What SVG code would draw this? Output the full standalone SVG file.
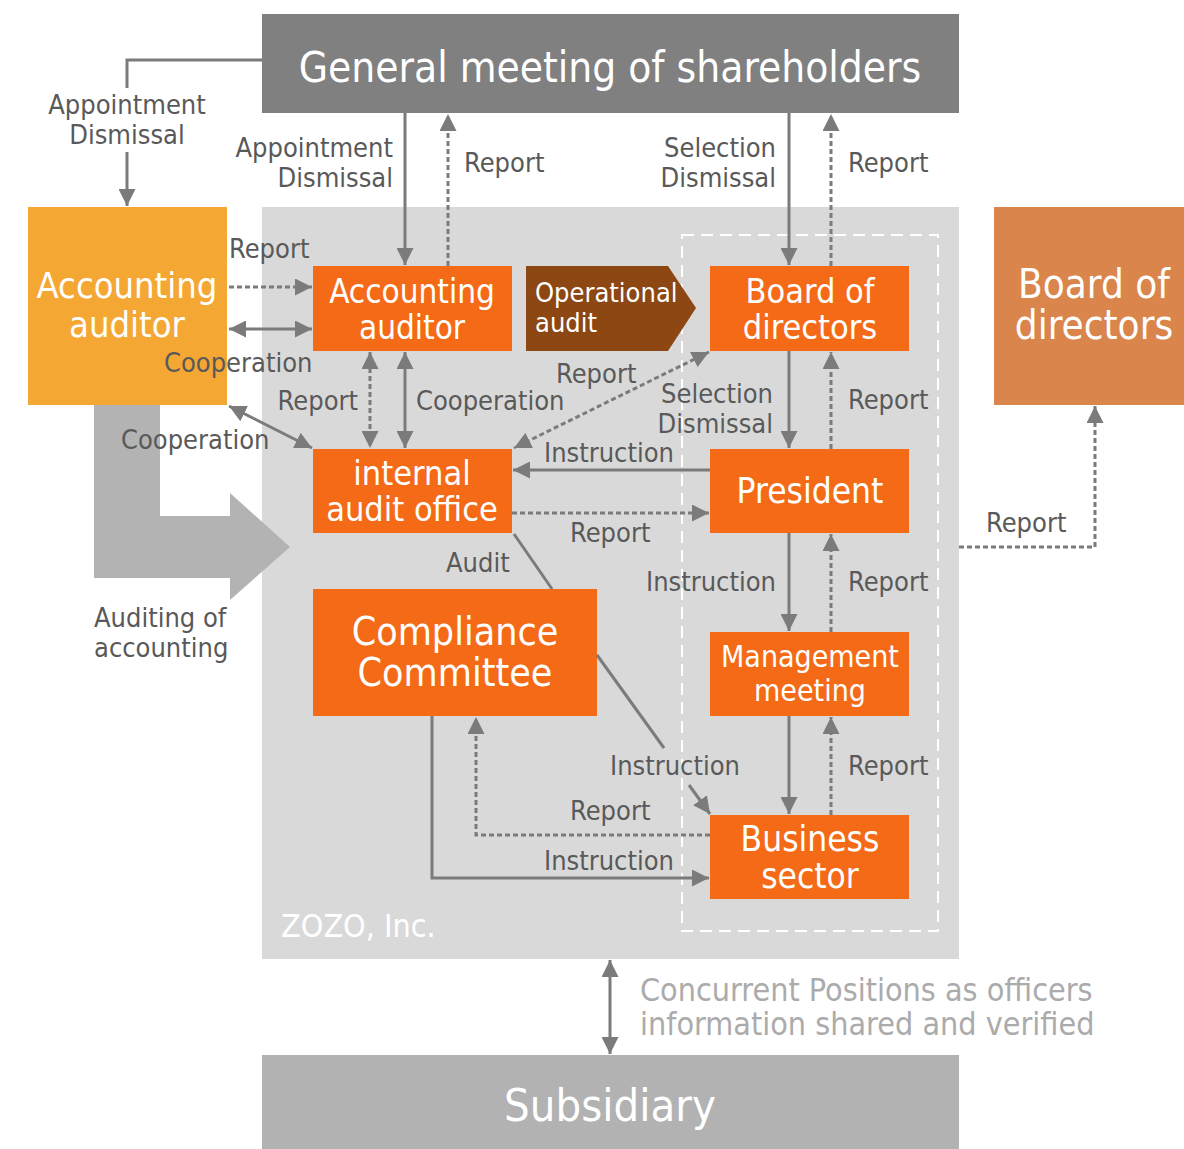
<svg xmlns="http://www.w3.org/2000/svg" width="1184" height="1149" viewBox="0 0 1184 1149">
<defs>
<marker id="ah" viewBox="0 0 10 10" refX="10" refY="5" markerWidth="17" markerHeight="17" markerUnits="userSpaceOnUse" orient="auto-start-reverse"><path d="M0,0 L10,5 L0,10 z" fill="#7b7b7b"/></marker>
<style>
.ln{stroke:#7b7b7b;stroke-width:3;fill:none}
.dt{stroke:#7b7b7b;stroke-width:3;fill:none;stroke-dasharray:5 3}
.lb{font-family:'DejaVu Sans Condensed','DejaVu Sans',sans-serif;font-stretch:condensed;font-size:27px;fill:#595959}
.nt{font-family:'DejaVu Sans Condensed','DejaVu Sans',sans-serif;font-stretch:condensed;fill:#ffffff;text-anchor:middle}
.or{fill:#f56a16}
</style>
</defs>
<rect width="1184" height="1149" fill="#ffffff"/>
<rect x="262" y="207" width="697" height="752" fill="#d9d9d9"/>
<rect x="682" y="235" width="256" height="696" fill="none" stroke="#ffffff" stroke-width="2" stroke-dasharray="12 7"/>
<text x="281" y="937" class="nt" style="text-anchor:start;font-size:32px">ZOZO, Inc.</text>
<path d="M94,405 L160,405 L160,516 L230,516 L230,493 L290,547 L230,600 L230,578 L94,578 Z" fill="#b3b3b3"/>
<g id="gm"><rect x="262" y="14" width="697" height="99" fill="#808080"/><text x="610" y="82" class="nt" style="font-size:42px">General meeting of shareholders</text></g>
<g id="acc-ext"><rect x="28" y="207" width="199" height="198" fill="#f5a733"/><text class="nt" style="font-size:36px"><tspan x="127" y="298">Accounting</tspan><tspan x="127" y="337">auditor</tspan></text></g>
<g id="bod-ext"><rect x="994" y="207" width="190" height="198" fill="#d9854b"/><text class="nt" style="font-size:40px"><tspan x="1094" y="298">Board of</tspan><tspan x="1094" y="339">directors</tspan></text></g>
<g id="acc-int"><rect x="313" y="266" width="199" height="85" class="or"/><text class="nt" style="font-size:33px"><tspan x="412" y="303">Accounting</tspan><tspan x="412" y="339">auditor</tspan></text></g>
<g id="opaudit"><path d="M526,266 L668,266 L696,308 L668,351 L526,351 Z" fill="#8c4712"/><text class="nt" style="text-anchor:start;font-size:27px"><tspan x="535" y="302">Operational</tspan><tspan x="535" y="332">audit</tspan></text></g>
<g id="bod"><rect x="710" y="266" width="199" height="85" class="or"/><text class="nt" style="font-size:34px"><tspan x="810" y="303">Board of</tspan><tspan x="810" y="339">directors</tspan></text></g>
<g id="iao"><rect x="313" y="449" width="199" height="84" class="or"/><text class="nt" style="font-size:34px"><tspan x="412" y="485">internal</tspan><tspan x="412" y="521">audit office</tspan></text></g>
<g id="president"><rect x="710" y="449" width="199" height="84" class="or"/><text x="810" y="503" class="nt" style="font-size:35px">President</text></g>
<g id="compliance"><rect x="313" y="589" width="284" height="127" class="or"/><text class="nt" style="font-size:39px"><tspan x="455" y="645">Compliance</tspan><tspan x="455" y="686">Committee</tspan></text></g>
<g id="mgmt"><rect x="710" y="632" width="199" height="84" class="or"/><text class="nt" style="font-size:30px"><tspan x="810" y="667">Management</tspan><tspan x="810" y="701">meeting</tspan></text></g>
<g id="business"><rect x="710" y="815" width="199" height="84" class="or"/><text class="nt" style="font-size:35px"><tspan x="810" y="851">Business</tspan><tspan x="810" y="888">sector</tspan></text></g>
<g id="subsidiary"><rect x="262" y="1055" width="697" height="94" fill="#b2b2b2"/><text x="610" y="1121" class="nt" style="font-size:45px">Subsidiary</text></g>
<g id="connectors">
<polyline class="ln" points="262,60 127,60 127,88"/>
<line class="ln" x1="127" y1="152" x2="127" y2="206" marker-end="url(#ah)"/>
<line class="ln" x1="405" y1="113" x2="405" y2="265" marker-end="url(#ah)"/>
<line class="dt" x1="448" y1="266" x2="448" y2="114" marker-end="url(#ah)"/>
<line class="ln" x1="789" y1="113" x2="789" y2="265" marker-end="url(#ah)"/>
<line class="dt" x1="831" y1="266" x2="831" y2="114" marker-end="url(#ah)"/>
<line class="dt" x1="229" y1="287" x2="312" y2="287" marker-end="url(#ah)"/>
<line class="ln" x1="229" y1="329" x2="312" y2="329" marker-start="url(#ah)" marker-end="url(#ah)"/>
<line class="dt" x1="370" y1="352" x2="370" y2="448" marker-start="url(#ah)" marker-end="url(#ah)"/>
<line class="ln" x1="405" y1="352" x2="405" y2="448" marker-start="url(#ah)" marker-end="url(#ah)"/>
<line class="ln" x1="229" y1="406" x2="312" y2="448" marker-start="url(#ah)" marker-end="url(#ah)"/>
<line class="dt" x1="709" y1="352" x2="514" y2="448" marker-start="url(#ah)" marker-end="url(#ah)"/>
<line class="ln" x1="710" y1="470" x2="513" y2="470" marker-end="url(#ah)"/>
<line class="dt" x1="512" y1="513" x2="709" y2="513" marker-end="url(#ah)"/>
<line class="ln" x1="789" y1="351" x2="789" y2="448" marker-end="url(#ah)"/>
<line class="dt" x1="831" y1="449" x2="831" y2="352" marker-end="url(#ah)"/>
<line class="ln" x1="789" y1="533" x2="789" y2="631" marker-end="url(#ah)"/>
<line class="dt" x1="831" y1="632" x2="831" y2="534" marker-end="url(#ah)"/>
<line class="ln" x1="789" y1="716" x2="789" y2="814" marker-end="url(#ah)"/>
<line class="dt" x1="831" y1="815" x2="831" y2="717" marker-end="url(#ah)"/>
<line class="ln" x1="514" y1="534" x2="552" y2="589"/>
<line class="ln" x1="597" y1="655" x2="664" y2="748"/>
<line class="ln" x1="689" y1="785" x2="710" y2="814" marker-end="url(#ah)"/>
<polyline class="dt" points="710,835 476,835 476,717" marker-end="url(#ah)"/>
<polyline class="ln" points="432,716 432,878 709,878" marker-end="url(#ah)"/>
<polyline class="dt" points="959,547 1095,547 1095,406" marker-end="url(#ah)"/>
<line class="ln" x1="610" y1="960" x2="610" y2="1054" marker-start="url(#ah)" marker-end="url(#ah)"/>
</g>
<g id="labels">
<text class="lb" text-anchor="middle"><tspan x="127" y="114">Appointment</tspan><tspan x="127" y="144">Dismissal</tspan></text>
<text class="lb" text-anchor="end"><tspan x="393" y="157">Appointment</tspan><tspan x="393" y="187">Dismissal</tspan></text>
<text class="lb" x="464" y="172">Report</text>
<text class="lb" text-anchor="end"><tspan x="776" y="157">Selection</tspan><tspan x="776" y="187">Dismissal</tspan></text>
<text class="lb" x="848" y="172">Report</text>
<text class="lb" x="229" y="258">Report</text>
<text class="lb" x="164" y="372">Cooperation</text>
<text class="lb" x="358" y="410" text-anchor="end">Report</text>
<text class="lb" x="416" y="410">Cooperation</text>
<text class="lb" x="121" y="449">Cooperation</text>
<text class="lb" x="556" y="383">Report</text>
<text class="lb" text-anchor="end"><tspan x="773" y="403">Selection</tspan><tspan x="773" y="433">Dismissal</tspan></text>
<text class="lb" x="544" y="462">Instruction</text>
<text class="lb" x="848" y="409">Report</text>
<text class="lb" x="570" y="542">Report</text>
<text class="lb" x="446" y="572">Audit</text>
<text class="lb" x="776" y="591" text-anchor="end">Instruction</text>
<text class="lb" x="848" y="591">Report</text>
<text class="lb"><tspan x="94" y="627">Auditing of</tspan><tspan x="94" y="657">accounting</tspan></text>
<text class="lb" x="610" y="775">Instruction</text>
<text class="lb" x="848" y="775">Report</text>
<text class="lb" x="570" y="820">Report</text>
<text class="lb" x="544" y="870">Instruction</text>
<text class="lb" x="986" y="532">Report</text>
<text class="lb" style="font-size:32px;fill:#ababab"><tspan x="640" y="1001">Concurrent Positions as officers</tspan><tspan x="640" y="1035">information shared and verified</tspan></text>
</g>
</svg>
